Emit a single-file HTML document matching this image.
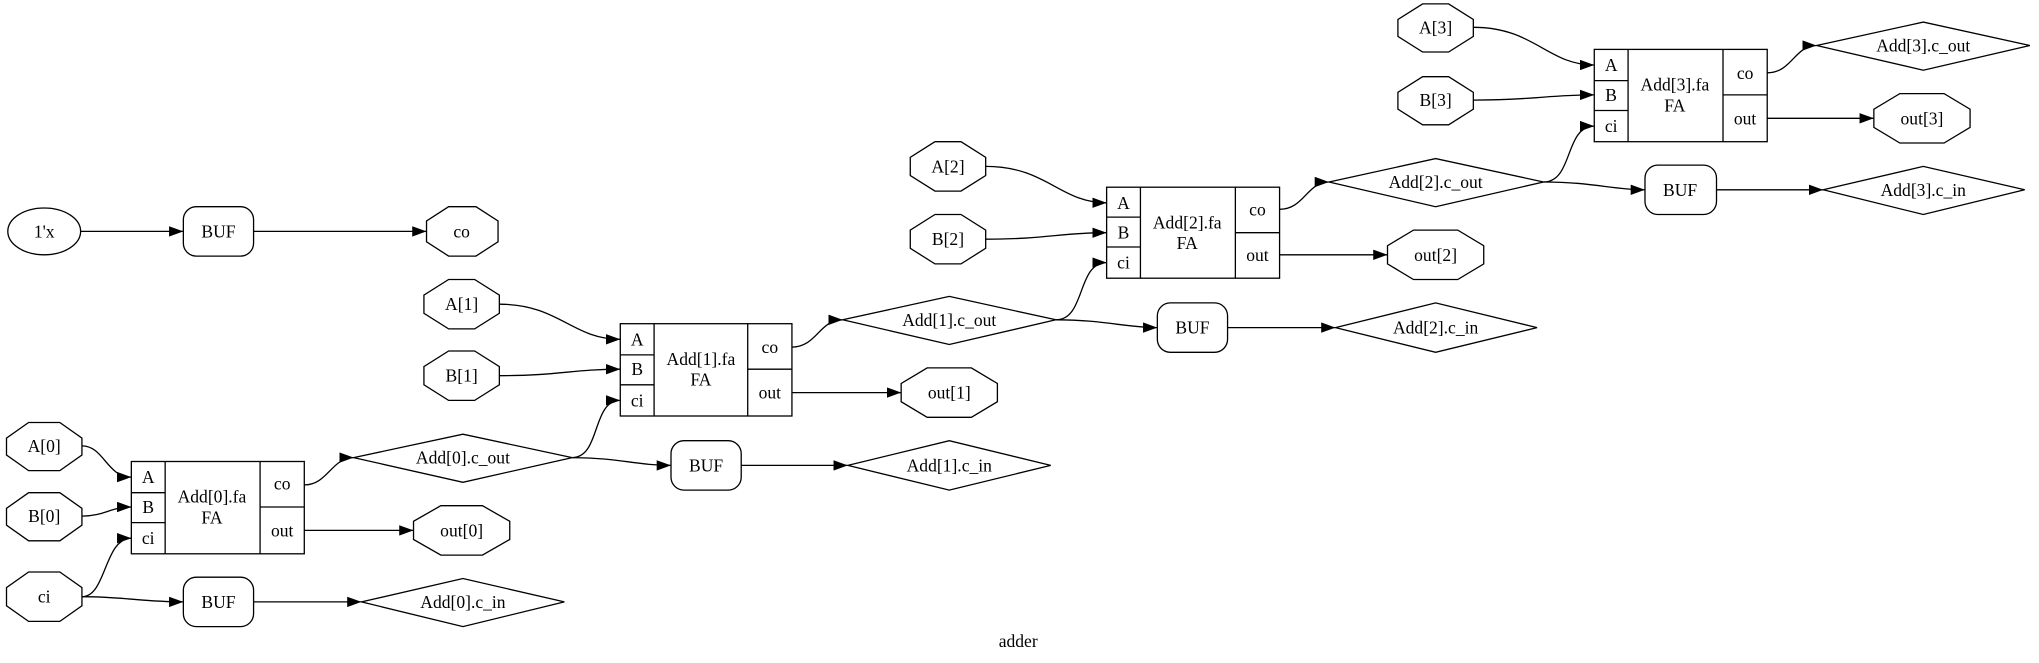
<!DOCTYPE html>
<html><head><meta charset="utf-8"><style>html,body{margin:0;padding:0;background:#fff}svg{display:block}text{font-family:"Liberation Serif",serif;font-size:13.5px}</style></head>
<body>
<svg width="2039" height="663" viewBox="0 0 1568 510" preserveAspectRatio="none" xmlns="http://www.w3.org/2000/svg">
<defs><marker id="a" markerWidth="11" markerHeight="8" refX="11" refY="4" orient="auto" markerUnits="userSpaceOnUse"><path d="M0,0 L11,4 L0,8 z" fill="#000"/></marker></defs>
<g fill="none" stroke="#000" stroke-width="1" marker-end="url(#a)">
<path d="M62,178 H141"/><path d="M195,178 H328"/>
<path d="M63,343 C80,343 82,367 101,367"/>
<path d="M63,397 C80,397 85,390 101,390"/>
<path d="M63,459 C82,459 80,414 101,414"/>
<path d="M63,459 C95,459 110,463 141,463"/>
<path d="M195,463 H278"/>
<path d="M234,373 C252,373 255,352 272,352"/>
<path d="M234,408 H318"/>
<path d="M440,352 C462,352 455,308 477,308"/>
<path d="M440,352 C475,352 490,358 516,358"/>
<path d="M570,358 H652"/>
<path d="M384,234 C430,234 440,261 477,261"/>
<path d="M384,289 C430,289 440,284 477,284"/>
<path d="M609,267 C628,267 630,246 648,246"/>
<path d="M609,302 H693"/>
<path d="M812,246 C835,246 828,202 851,202"/>
<path d="M812,246 C850,246 865,252 890,252"/>
<path d="M944,252 H1027"/>
<path d="M758,128 C805,128 815,156 851,156"/>
<path d="M758,184 C805,184 815,179 851,179"/>
<path d="M984,161 C1003,161 1005,140 1022,140"/>
<path d="M984,196 H1067"/>
<path d="M1187,140 C1210,140 1203,97 1226,97"/>
<path d="M1187,140 C1225,140 1240,146 1265,146"/>
<path d="M1320,146 H1402"/>
<path d="M1133,21 C1180,21 1190,50 1226,50"/>
<path d="M1133,77 C1180,77 1190,73 1226,73"/>
<path d="M1359,56 C1378,56 1380,35 1397,35"/>
<path d="M1359,91 H1441"/>
</g>
<g fill="none" stroke="#000" stroke-width="1">
<ellipse cx="34" cy="178" rx="28" ry="18"/>
<rect x="141" y="159" width="54" height="38" rx="10"/>
<rect x="141" y="444" width="54" height="38" rx="10"/>
<rect x="516" y="339" width="54" height="38" rx="10"/>
<rect x="890" y="233" width="54" height="38" rx="10"/>
<rect x="1265" y="127" width="55" height="38" rx="10"/>
<polygon points="345,159 366,159 383,170 383,186 366,197 345,197 328,186 328,170"/>
<polygon points="22,325 46,325 63,337 63,350 46,362 22,362 5,350 5,337"/>
<polygon points="22,379 46,379 63,391 63,404 46,416 22,416 5,404 5,391"/>
<polygon points="22,440 46,440 63,452 63,466 46,478 22,478 5,466 5,452"/>
<polygon points="339,389 371,389 392,401 392,415 371,427 339,427 318,415 318,401"/>
<polygon points="345,215 365,215 384,227 384,241 365,253 345,253 326,241 326,227"/>
<polygon points="345,270 365,270 384,282 384,296 365,308 345,308 326,296 326,282"/>
<polygon points="713,283 747,283 767,295 767,309 747,321 713,321 693,309 693,295"/>
<polygon points="719,109 739,109 758,121 758,135 739,147 719,147 700,135 700,121"/>
<polygon points="719,165 739,165 758,177 758,191 739,203 719,203 700,191 700,177"/>
<polygon points="1087,177 1121,177 1141,189 1141,203 1121,215 1087,215 1067,203 1067,189"/>
<polygon points="1094,3 1114,3 1133,15 1133,28 1114,40 1094,40 1075,28 1075,15"/>
<polygon points="1094,59 1114,59 1133,71 1133,84 1114,96 1094,96 1075,84 1075,71"/>
<polygon points="1461,72 1495,72 1515,84 1515,98 1495,110 1461,110 1441,98 1441,84"/>
<polygon points="272,352 356,334 440,352 356,371"/>
<polygon points="278,463 356,445 434,463 356,482"/>
<polygon points="648,246 730,228 812,246 730,265"/>
<polygon points="652,358 730,339 808,358 730,377"/>
<polygon points="1022,140 1104,122 1187,140 1104,159"/>
<polygon points="1027,252 1104,233 1182,252 1104,271"/>
<polygon points="1397,35 1479,17 1561,35 1479,54"/>
<polygon points="1402,146 1479,128 1557,146 1479,165"/>
<rect x="101" y="355" width="133" height="71"/><path d="M127,355V426 M200,355V426 M101,379H127 M101,402H127 M200,390H234"/>
<rect x="477" y="249" width="132" height="71"/><path d="M503,249V320 M575,249V320 M477,273H503 M477,296H503 M575,284H609"/>
<rect x="851" y="144" width="133" height="70"/><path d="M877,144V214 M950,144V214 M851,167H877 M851,190H877 M950,179H984"/>
<rect x="1226" y="38" width="133" height="71"/><path d="M1252,38V109 M1325,38V109 M1226,62H1252 M1226,85H1252 M1325,73H1359"/>
</g>
<g fill="#000" text-anchor="middle" dominant-baseline="central">
<text x="34" y="178">1'x</text><text x="168" y="178">BUF</text><text x="355" y="178">co</text>
<text x="34" y="343">A[0]</text><text x="34" y="397">B[0]</text><text x="34" y="459">ci</text>
<text x="168" y="463">BUF</text><text x="356" y="463">Add[0].c_in</text>
<text x="356" y="352">Add[0].c_out</text><text x="355" y="408">out[0]</text>
<text x="114" y="367">A</text><text x="114" y="390">B</text><text x="114" y="414">ci</text>
<text x="163" y="382">Add[0].fa</text><text x="163" y="398">FA</text>
<text x="217" y="372">co</text><text x="217" y="408">out</text>
<text x="355" y="234">A[1]</text><text x="355" y="289">B[1]</text>
<text x="490" y="261">A</text><text x="490" y="284">B</text><text x="490" y="308">ci</text>
<text x="539" y="276">Add[1].fa</text><text x="539" y="292">FA</text>
<text x="592" y="267">co</text><text x="592" y="302">out</text>
<text x="730" y="246">Add[1].c_out</text><text x="730" y="302">out[1]</text>
<text x="543" y="358">BUF</text><text x="730" y="358">Add[1].c_in</text>
<text x="729" y="128">A[2]</text><text x="729" y="184">B[2]</text>
<text x="864" y="156">A</text><text x="864" y="179">B</text><text x="864" y="202">ci</text>
<text x="913" y="171">Add[2].fa</text><text x="913" y="187">FA</text>
<text x="967" y="161">co</text><text x="967" y="196">out</text>
<text x="1104" y="140">Add[2].c_out</text><text x="1104" y="196">out[2]</text>
<text x="917" y="252">BUF</text><text x="1104" y="252">Add[2].c_in</text>
<text x="1104" y="21">A[3]</text><text x="1104" y="77">B[3]</text>
<text x="1239" y="50">A</text><text x="1239" y="73">B</text><text x="1239" y="97">ci</text>
<text x="1288" y="65">Add[3].fa</text><text x="1288" y="81">FA</text>
<text x="1342" y="56">co</text><text x="1342" y="91">out</text>
<text x="1479" y="35">Add[3].c_out</text><text x="1478" y="91">out[3]</text>
<text x="1292" y="146">BUF</text><text x="1479" y="146">Add[3].c_in</text>
<text x="783" y="493">adder</text>
</g>
</svg>
</body></html>
